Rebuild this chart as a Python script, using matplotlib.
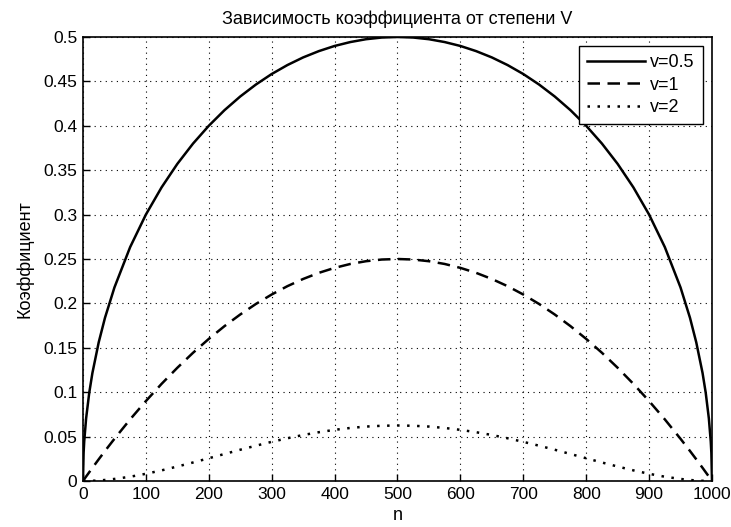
import matplotlib
matplotlib.use("Agg")
import matplotlib.pyplot as plt
from matplotlib.ticker import FixedLocator

plt.rcParams['font.family'] = ['Liberation Sans', 'DejaVu Sans']

# values (left half; curves are symmetric about n=500)
n_half = [0, 1, 2, 5, 10, 15, 25, 35, 50, 75, 100, 125, 150, 175, 200, 225, 250,
          275, 300, 325, 350, 375, 400, 425, 450, 475, 500]
k05_half = [0, 0.0316, 0.0447, 0.0705, 0.0995, 0.1216, 0.1561, 0.1838, 0.2179,
            0.2634, 0.300, 0.3307, 0.3571, 0.3800, 0.400, 0.4176, 0.4330,
            0.4465, 0.4583, 0.4684, 0.4770, 0.4841, 0.4899, 0.4943, 0.4975,
            0.4994, 0.500]
k1_half = [0, 0.0010, 0.0020, 0.0050, 0.0099, 0.0148, 0.0244, 0.0338, 0.0475,
           0.0694, 0.090, 0.1094, 0.1275, 0.1444, 0.160, 0.1744, 0.1875,
           0.1994, 0.210, 0.2194, 0.2275, 0.2344, 0.240, 0.2444, 0.2475,
           0.2494, 0.250]
k2_half = [0, 0.000001, 0.000004, 0.00002, 0.0001, 0.00022, 0.0006, 0.00114,
           0.0023, 0.0048, 0.0081, 0.01196, 0.0163, 0.02084, 0.0256, 0.03041,
           0.0352, 0.03975, 0.0441, 0.04812, 0.0518, 0.05493, 0.0576, 0.05972,
           0.0613, 0.06219, 0.0625]

n = n_half + [1000 - v for v in reversed(n_half[:-1])]
k05 = k05_half + list(reversed(k05_half[:-1]))
k1 = k1_half + list(reversed(k1_half[:-1]))
k2 = k2_half + list(reversed(k2_half[:-1]))

labels = ['v=0.5', 'v=1', 'v=2']
title = 'Зависимость коэффициента от степени V'
xlabel = 'n'
ylabel = 'Коэффициент'
xticks = list(range(0, 1001, 100))
yticks = [0, 0.05, 0.1, 0.15, 0.2, 0.25, 0.3, 0.35, 0.4, 0.45, 0.5]
yticklabels = ['0', '0.05', '0.1', '0.15', '0.2', '0.25', '0.3', '0.35', '0.4', '0.45', '0.5']

fig = plt.figure(figsize=(7.31, 5.27), dpi=100)
ax = fig.add_axes([0.1135, 0.0873, 0.8605, 0.8425])

ax.plot(n, k05, color='black', lw=1.8, linestyle='-', label=labels[0])
ax.plot(n, k1, color='black', lw=1.8, linestyle=(0, (5, 3)), label=labels[1])
ax.plot(n, k2, color='black', lw=1.8, linestyle=(0, (1, 3)), label=labels[2])

ax.set_xlim(0, 1000)
ax.set_ylim(0, 0.5)
ax.xaxis.set_major_locator(FixedLocator(xticks))
ax.set_yticks(yticks)
ax.set_yticklabels(yticklabels)
ax.tick_params(direction='in', length=5, width=1, labelsize=12.5, colors='black', pad=4,
               top=False, right=False)
ax.grid(True, color='black', linestyle=(0, (1, 4)), linewidth=0.8)
for sp in ax.spines.values():
    sp.set_linewidth(1.2)
    sp.set_color('black')

ax.set_title(title, fontsize=13, pad=9)
ax.set_xlabel(xlabel, fontsize=13, labelpad=4)
ax.set_ylabel(ylabel, fontsize=13, labelpad=7)

leg = ax.legend(loc='upper right', fontsize=13, handlelength=3.2, frameon=True,
                fancybox=False, borderaxespad=0.5, handletextpad=0.3,
                labelspacing=0.3, borderpad=0.45)
leg.get_frame().set_edgecolor('black')
leg.get_frame().set_linewidth(1.0)
leg.get_frame().set_alpha(1)

fig.savefig('out.png', dpi=100)
